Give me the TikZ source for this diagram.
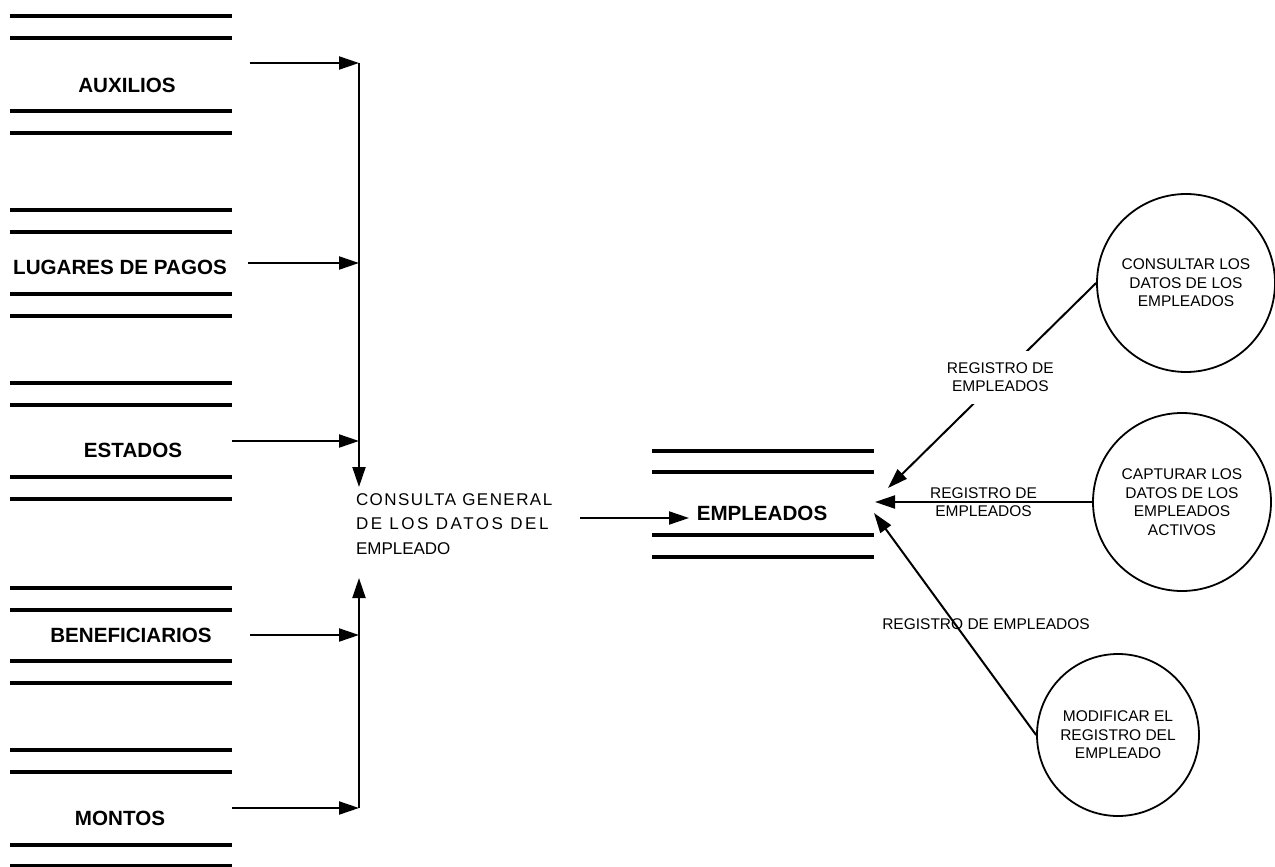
\documentclass[tikz,border=0pt]{standalone}
\usepackage{fontspec}
\setmainfont{Liberation Sans}
\usetikzlibrary{arrows.meta,positioning}
\tikzset{
  almacen/.style={font=\fontsize{10.3}{12}\selectfont\bfseries},
  proceso/.style={draw,circle,line width=0.9pt,inner sep=0pt,align=center,font=\fontsize{7.75}{9.25}\selectfont},
  flujo/.style={font=\fontsize{7.75}{9.25}\selectfont,align=center},
  linea/.style={line width=1.6pt},
}

\begin{document}
\begin{tikzpicture}[x=0.5pt,y=-0.5pt,>={Triangle[length=10pt,width=6.5pt]},line width=1pt]
\useasboundingbox (0,0) rectangle (1275,867);
% almacenes
\foreach \y in {16,38,111,133,210,232,294,316,383,405,477,499,588,610,661,683,750,772,845,866}
  \draw[linea] (10,\y) -- (232,\y);
\foreach \y in {451,472,535,557}
  \draw[linea] (652,\y) -- (874,\y);
\node[almacen] (aux) at (127,85) {AUXILIOS};
\node[almacen] (lug) at (120,267) {LUGARES DE PAGOS};
\node[almacen] (est) at (133,450) {ESTADOS};
\node[almacen] (ben) at (131,635) {BENEFICIARIOS};
\node[almacen] (mon) at (120,818) {MONTOS};
\node[almacen] (emp) at (762,513) {EMPLEADOS};
% consulta general
\node[anchor=west,inner sep=0pt,align=left,font=\fontsize{8.5}{12.25}\selectfont] (cons) at (355,524)
  {{\addfontfeatures{LetterSpace=8.5}CONSULTA GENERAL}\\{\addfontfeatures{LetterSpace=15}DE LOS DATOS DEL}\\EMPLEADO};
% procesos
\node[proceso,minimum size=89pt] (p1) at (1186,283) {CONSULTAR LOS\\DATOS DE LOS\\EMPLEADOS};
\node[proceso,minimum size=89pt] (p2) at (1182,502) {CAPTURAR LOS\\DATOS DE LOS\\EMPLEADOS\\ACTIVOS};
\node[proceso,minimum size=81pt] (p3) at (1118,735) {MODIFICAR EL\\REGISTRO DEL\\EMPLEADO};
% puntos de los flujos
\coordinate (a1) at (250,63);  \coordinate (b1) at (359,63);
\coordinate (a2) at (248,263); \coordinate (b2) at (359,263);
\coordinate (a3) at (232,441); \coordinate (b3) at (359,441);
\coordinate (a4) at (250,635); \coordinate (b4) at (359,635);
\coordinate (a5) at (232,808); \coordinate (b5) at (359,808);
\coordinate (bs) at (359,487); \coordinate (bi) at (359,578);
\coordinate (c1) at (580,518); \coordinate (c2) at (689,518);
\coordinate (e1) at (888,488); \coordinate (e2) at (875,502); \coordinate (e3) at (874,513);
% flujos
\draw[->] (a1) -- (b1);
\draw[->] (a2) -- (b2);
\draw[->] (a3) -- (b3);
\draw[->] (a4) -- (b4);
\draw[->] (a5) -- (b5);
\draw[->] (b1) -- (bs);
\draw[->] (b5) -- (bi);
\draw[->] (c1) -- (c2);
\draw[->] (p1.west) -- node[flujo,fill=white,inner sep=6pt,pos=0.46] {REGISTRO DE\\EMPLEADOS} (e1);
\draw[->] (p2.west) -- node[flujo] {REGISTRO DE\\EMPLEADOS} (e2);
\draw[->] (p3.west) -- node[flujo,xshift=15.5pt] {REGISTRO DE EMPLEADOS} (e3);
\end{tikzpicture}
\end{document}
